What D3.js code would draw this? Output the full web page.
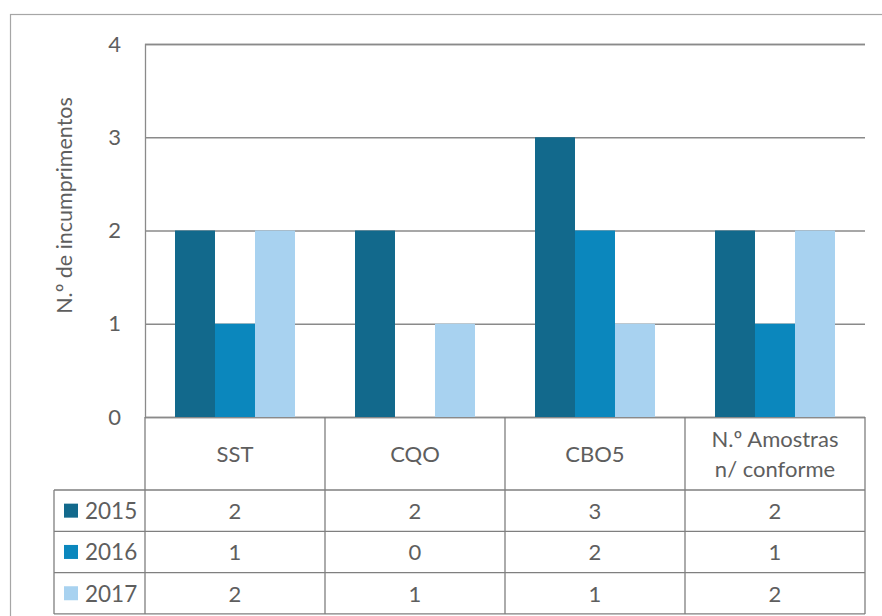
<!DOCTYPE html>
<html>
<head>
<meta charset="utf-8">
<script src="https://cdn.jsdelivr.net/npm/d3@7"></script>
<style>
  html, body { margin: 0; padding: 0; background: #fff; }
  svg { display: block; }
  text { font-family: Lato, "Open Sans", sans-serif; font-weight: 400; fill: #5e5e5e; }
</style>
</head>
<body>
<svg id="chart" width="882" height="616"></svg>
<script>
// Non-compliance counts per parameter and year
const categories = ["SST", "CQO", "CBO5", "N.º Amostras\nn/ conforme"];
const years = ["2015", "2016", "2017"];
const values2015 = [2, 2, 3, 2];
const values2016 = [1, 0, 2, 1];
const values2017 = [2, 1, 1, 2];
const yTicks = [0, 1, 2, 3, 4];
const yTitle = "N.º de incumprimentos";

const seriesValues = [values2015, values2016, values2017];
const colors = ["#12698c", "#0b87bd", "#a8d2f0"];

const svg = d3.select("#chart");
const plot = { left: 145, right: 865, top: 44, bottom: 417 };
const headerBottom = 490;
const rowHeight = 41.3;
const legendLeft = 54;

// Outer chart frame
svg.append("rect")
  .attr("x", 10.5).attr("y", 14.5)
  .attr("width", 900).attr("height", 700)
  .attr("fill", "none").attr("stroke", "#a6a6a6").attr("stroke-width", 1.2);

const x = d3.scaleBand().domain(categories).range([plot.left, plot.right]).padding(0);
const xInner = d3.scaleBand().domain(years).range([0, x.bandwidth()])
  .paddingInner(0).paddingOuter(0.75);
const y = d3.scaleLinear().domain([0, 4]).range([plot.bottom, plot.top]);

// Gridlines and value axis
const yAxis = d3.axisLeft(y).tickValues(yTicks).tickFormat(d3.format("d"))
  .tickSize(-(plot.right - plot.left)).tickPadding(24);
const gy = svg.append("g").attr("transform", `translate(${plot.left},0)`).call(yAxis);
gy.select(".domain").attr("stroke", "#8a8a8a").attr("stroke-width", 1.3);
gy.selectAll(".tick line").attr("stroke", "#8a8a8a").attr("stroke-width", 1.3);
gy.selectAll(".tick text").style("font-size", "22px").attr("fill", "#5e5e5e")
  .style("font-family", "Lato, sans-serif").style("font-weight", 400);

// Bars
const groups = svg.append("g").selectAll("g")
  .data(categories).join("g")
  .attr("transform", d => `translate(${x(d)},0)`);
groups.selectAll("rect")
  .data((c, ci) => years.map((yr, si) => ({ yr, si, v: seriesValues[si][ci] })))
  .join("rect")
  .filter(d => d.v > 0)
  .attr("x", d => xInner(d.yr))
  .attr("width", xInner.bandwidth())
  .attr("y", d => y(d.v))
  .attr("height", d => y(0) - y(d.v))
  .attr("fill", d => colors[d.si]);

// Axis title
svg.append("text")
  .attr("transform", `translate(72,${(plot.top + plot.bottom) / 2 - 25}) rotate(-90)`)
  .attr("text-anchor", "middle")
  .style("font-size", "21.5px")
  .text(yTitle);

// Data table
const table = svg.append("g");
const lineColor = "#7f7f7f";
const tableBottom = headerBottom + rowHeight * years.length;

// Header row: category labels
categories.forEach(c => {
  const lines = c.split("\n");
  const cx = x(c) + x.bandwidth() / 2;
  const cy = (plot.bottom + headerBottom) / 2;
  lines.forEach((ln, i) => {
    table.append("text")
      .attr("x", cx)
      .attr("y", cy + (i - (lines.length - 1) / 2) * 30)
      .attr("text-anchor", "middle")
      .attr("dominant-baseline", "central")
      .style("font-size", "22px")
      .text(ln);
  });
});

// Vertical lines
[...categories.map(c => x(c)), plot.right].forEach(xx => {
  table.append("line")
    .attr("x1", xx).attr("x2", xx)
    .attr("y1", plot.bottom).attr("y2", tableBottom)
    .attr("stroke", lineColor).attr("stroke-width", 1.3);
});
table.append("line")
  .attr("x1", legendLeft).attr("x2", legendLeft)
  .attr("y1", headerBottom).attr("y2", tableBottom)
  .attr("stroke", lineColor).attr("stroke-width", 1.3);

// Horizontal lines
d3.range(years.length + 1).forEach(i => {
  const yy = headerBottom + i * rowHeight;
  table.append("line")
    .attr("x1", legendLeft).attr("x2", plot.right)
    .attr("y1", yy).attr("y2", yy)
    .attr("stroke", lineColor).attr("stroke-width", 1.3);
});

// Rows: legend key, year and values
years.forEach((yr, si) => {
  const cy = headerBottom + si * rowHeight + rowHeight / 2;
  table.append("rect")
    .attr("x", 64).attr("y", cy - 7)
    .attr("width", 14).attr("height", 14)
    .attr("fill", colors[si]);
  table.append("text")
    .attr("x", 85).attr("y", cy)
    .attr("dominant-baseline", "central")
    .style("font-size", "22.5px")
    .text(yr);
  categories.forEach((c, ci) => {
    table.append("text")
      .attr("x", x(c) + x.bandwidth() / 2)
      .attr("y", cy)
      .attr("text-anchor", "middle")
      .attr("dominant-baseline", "central")
      .style("font-size", "22px")
      .text(seriesValues[si][ci]);
  });
});
</script>
</body>
</html>
